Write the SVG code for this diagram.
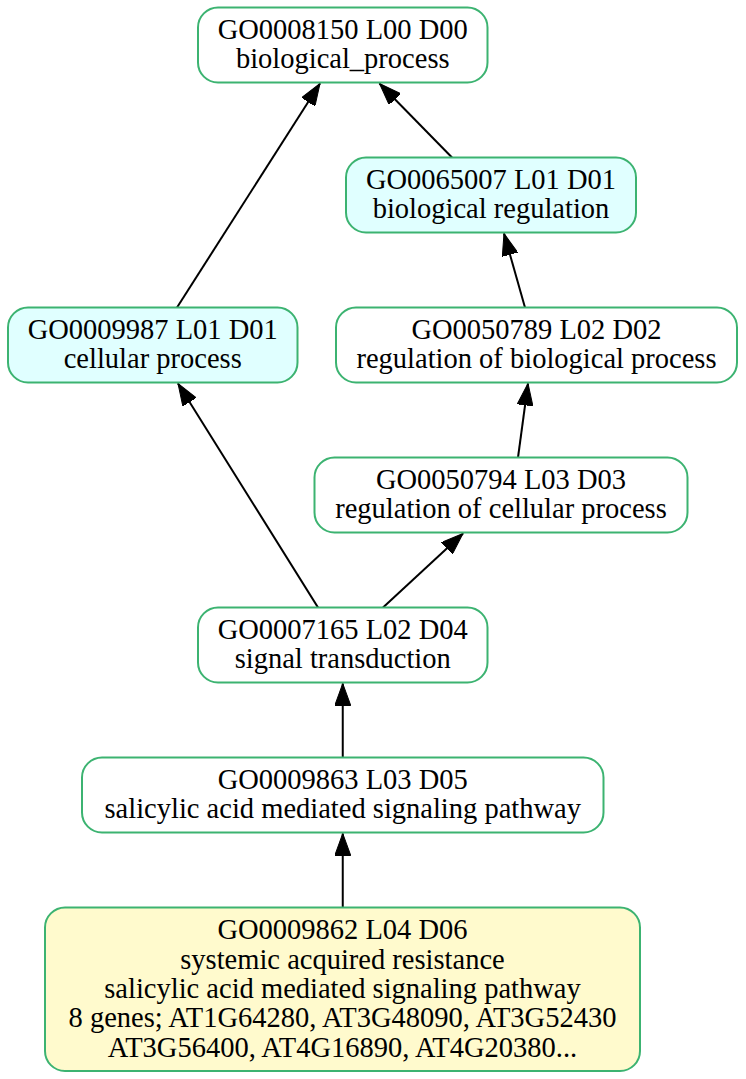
<svg xmlns="http://www.w3.org/2000/svg" width="746" height="1079" viewBox="0 0 746 1079">
<style>
.node rect{stroke:#3CB371;stroke-width:2}
.w{fill:#FFFFFF}
.c{fill:#E0FFFF}
.y{fill:#FFFACD}
text{font-family:"Liberation Serif","Times New Roman",serif;font-size:28.5px;fill:#000;text-anchor:middle}
.edges line{stroke:#000;stroke-width:2;fill:none;marker-end:url(#arr)}
</style>
<defs>
<marker id="arr" markerUnits="userSpaceOnUse" markerWidth="23" markerHeight="16" refX="22" refY="8" orient="auto" viewBox="0 0 23 16">
<path d="M0,0 L22,8 L0,16 Z" fill="#000" stroke="#000" stroke-width="1"/>
</marker>
</defs>
<rect width="746" height="1079" fill="#FFFFFF"/>
<g class="edges">
<line x1="177" y1="307.5" x2="320" y2="83.5"/>
<line x1="452" y1="157.5" x2="379.5" y2="83.5"/>
<line x1="525" y1="307.5" x2="504" y2="233.5"/>
<line x1="518" y1="457.5" x2="528" y2="383.5"/>
<line x1="318" y1="607.5" x2="178" y2="383.5"/>
<line x1="383" y1="607.5" x2="463" y2="533.5"/>
<line x1="342.75" y1="757.5" x2="342.75" y2="683.5"/>
<line x1="342.75" y1="907.5" x2="342.75" y2="833.5"/>
</g>
<g id="GO0008150" class="node">
<rect class="w" x="198" y="7.5" width="289.5" height="75" rx="20" ry="20"/>
<text x="342.75" y="38.5">GO0008150 L00 D00</text>
<text x="342.75" y="67.5">biological_process</text>
</g>
<g id="GO0065007" class="node">
<rect class="c" x="346" y="157.5" width="290" height="75" rx="20" ry="20"/>
<text x="491" y="188.5">GO0065007 L01 D01</text>
<text x="491" y="217.5">biological regulation</text>
</g>
<g id="GO0009987" class="node">
<rect class="c" x="8" y="307.5" width="289.5" height="75" rx="20" ry="20"/>
<text x="152.75" y="338.5">GO0009987 L01 D01</text>
<text x="152.75" y="367.5">cellular process</text>
</g>
<g id="GO0050789" class="node">
<rect class="w" x="336" y="307.5" width="401" height="75" rx="20" ry="20"/>
<text x="536.5" y="338.5">GO0050789 L02 D02</text>
<text x="536.5" y="367.5">regulation of biological process</text>
</g>
<g id="GO0050794" class="node">
<rect class="w" x="314.5" y="457.5" width="373" height="75" rx="20" ry="20"/>
<text x="501" y="488.5">GO0050794 L03 D03</text>
<text x="501" y="517.5">regulation of cellular process</text>
</g>
<g id="GO0007165" class="node">
<rect class="w" x="198" y="607.5" width="289.5" height="75" rx="20" ry="20"/>
<text x="342.75" y="638.5">GO0007165 L02 D04</text>
<text x="342.75" y="667.5">signal transduction</text>
</g>
<g id="GO0009863" class="node">
<rect class="w" x="82" y="757.5" width="521.5" height="75" rx="20" ry="20"/>
<text x="342.75" y="788.5">GO0009863 L03 D05</text>
<text x="342.75" y="817.5">salicylic acid mediated signaling pathway</text>
</g>
<g id="GO0009862" class="node">
<rect class="y" x="45" y="907.5" width="595" height="163.5" rx="20" ry="20"/>
<text x="342.5" y="939.3">GO0009862 L04 D06</text>
<text x="342.5" y="968.6">systemic acquired resistance</text>
<text x="342.5" y="997.9">salicylic acid mediated signaling pathway</text>
<text x="342.5" y="1027.2">8 genes; AT1G64280, AT3G48090, AT3G52430</text>
<text x="342.5" y="1056.5">AT3G56400, AT4G16890, AT4G20380...</text>
</g>
</svg>
